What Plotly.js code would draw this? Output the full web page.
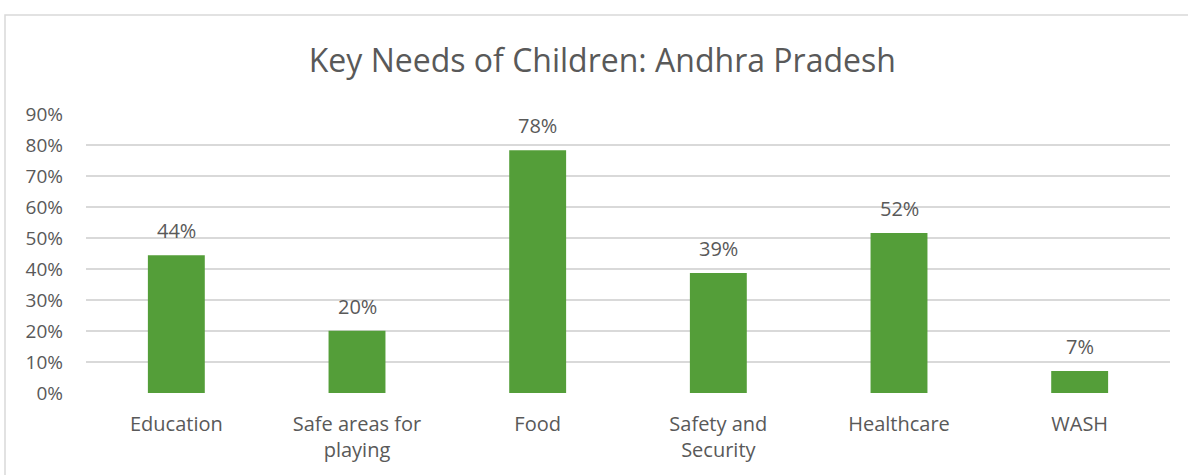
<!DOCTYPE html>
<html>
<head>
<meta charset="utf-8">
<script src="https://cdn.plot.ly/plotly-3.0.1.min.js"></script>
<style>
html,body{margin:0;padding:0;background:#fff;}
#chart{width:1188px;height:475px;}
</style>
</head>
<body>
<div id="chart"></div>
<script>
const categories = ["Education", "Safe areas for<br>playing", "Food", "Safety and<br>Security", "Healthcare", "WASH"];
const values = [0.444, 0.201, 0.783, 0.387, 0.516, 0.071];
const valueLabels = ["44%", "20%", "78%", "39%", "52%", "7%"];
const tickVals = [0, 0.1, 0.2, 0.3, 0.4, 0.5, 0.6, 0.7, 0.8, 0.9];
const tickText = ["0%", "10%", "20%", "30%", "40%", "50%", "60%", "70%", "80%", "90%"];

const FONT = "'Open Sans', sans-serif";
const TXT = "#595959";

const trace = {
  type: "bar",
  x: categories,
  y: values,
  marker: {color: "#549E39", line: {width: 0}},
  hoverinfo: "skip"
};

const annotations = categories.map((c, i) => ({
  x: c, y: values[i], xref: "x", yref: "y",
  text: valueLabels[i], showarrow: false,
  yanchor: "bottom", yshift: 9,
  font: {family: FONT, size: 20, color: TXT}
}));

const layout = {
  width: 1188, height: 475,
  margin: {l: 86, r: 18, t: 114, b: 82},
  paper_bgcolor: "#ffffff",
  plot_bgcolor: "#ffffff",
  showlegend: false,
  bargap: 0.685,
  title: {
    text: "Key Needs of Children: Andhra Pradesh",
    font: {family: FONT, size: 32, color: TXT},
    x: 0.507, xanchor: "center", y: 0.873, yanchor: "middle"
  },
  xaxis: {
    type: "category",
    showgrid: false, zeroline: false, showline: false,
    ticks: "", ticklabelstandoff: 17,
    tickfont: {family: FONT, size: 20, color: TXT},
    fixedrange: true
  },
  yaxis: {
    range: [0, 0.9],
    tickvals: tickVals, ticktext: tickText,
    showgrid: true, gridcolor: "#d9d9d9", gridwidth: 1.3,
    zeroline: false, showline: false,
    ticks: "", ticklabelstandoff: 22,
    tickfont: {family: FONT, size: 19, color: TXT},
    fixedrange: true
  },
  annotations: annotations,
  shapes: [{
    type: "rect", xref: "paper", yref: "paper",
    x0: -81/1084, x1: 1200/1084,
    y0: -100/279, y1: (279+99)/279,
    line: {color: "#d9d9d9", width: 1.5},
    fillcolor: "rgba(0,0,0,0)", layer: "below"
  }]
};

Plotly.newPlot("chart", [trace], layout, {staticPlot: true, displayModeBar: false});
</script>
</body>
</html>
